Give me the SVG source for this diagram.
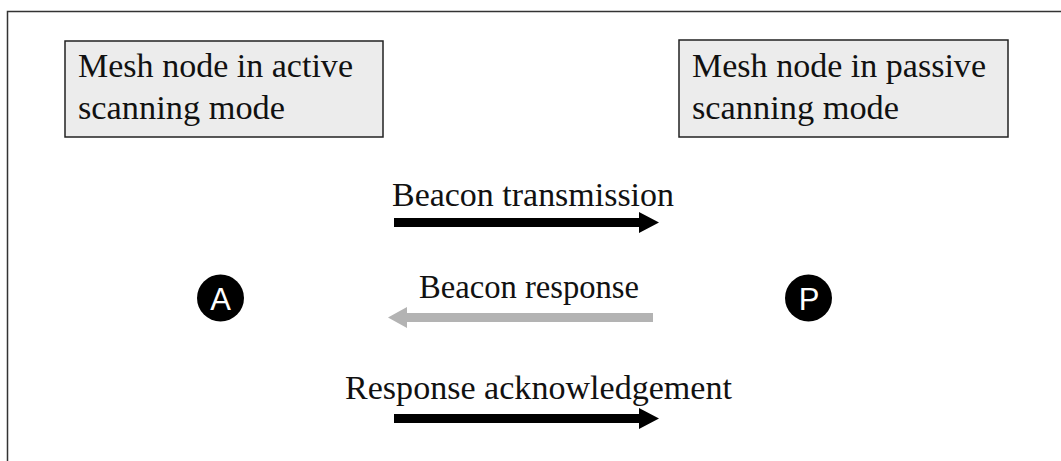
<svg xmlns="http://www.w3.org/2000/svg" width="1061" height="461" viewBox="0 0 1061 461">
  <style>
    .lbl { font-family: "Liberation Serif", "DejaVu Serif", serif; font-size: 34px; fill: #111; }
    .box { fill: #ececec; stroke: #222; stroke-width: 1.5; }
    .badge { fill: #000; }
    .badge-txt { font-family: "Liberation Sans", Arial, sans-serif; font-size: 31px; fill: #fff; text-anchor: middle; }
    .fwd { fill: #000; }
    .back { fill: #b3b3b3; }
  </style>
  <rect width="1061" height="461" fill="#fff"/>
  <!-- open frame: top and left edges only -->
  <path d="M7.5,470 V11.5 H1070" fill="none" stroke="#333" stroke-width="1.5"/>

  <g id="node-active">
    <rect class="box" x="65" y="41" width="318" height="96"/>
    <text class="lbl" x="78" y="77" textLength="275" lengthAdjust="spacingAndGlyphs">Mesh node in active</text>
    <text class="lbl" x="78" y="119" textLength="207" lengthAdjust="spacingAndGlyphs">scanning mode</text>
  </g>

  <g id="node-passive">
    <rect class="box" x="679" y="40" width="329" height="97"/>
    <text class="lbl" x="692" y="77" textLength="294" lengthAdjust="spacingAndGlyphs">Mesh node in passive</text>
    <text class="lbl" x="692" y="119" textLength="207" lengthAdjust="spacingAndGlyphs">scanning mode</text>
  </g>

  <g id="badge-a">
    <circle class="badge" cx="220.5" cy="298" r="23.5"/>
    <text class="badge-txt" x="220.5" y="309.5">A</text>
  </g>

  <g id="badge-p">
    <circle class="badge" cx="808.5" cy="298" r="23.5"/>
    <text class="badge-txt" x="809" y="309.5">P</text>
  </g>

  <g id="connectors">
    <g id="beacon-transmission">
      <polygon class="fwd" points="394,218 639,218 639,212 659,222.5 639,233 639,227 394,227"/>
      <text class="lbl" x="392" y="206" textLength="282" lengthAdjust="spacingAndGlyphs">Beacon transmission</text>
    </g>
    <g id="beacon-response">
      <polygon class="back" points="653,313 407,313 407,307 388,317.5 407,328 407,322 653,322"/>
      <text class="lbl" x="419" y="298" textLength="220" lengthAdjust="spacingAndGlyphs">Beacon response</text>
    </g>
    <g id="response-ack">
      <polygon class="fwd" points="394,414 639,414 639,408 659,418.5 639,429 639,423 394,423"/>
      <text class="lbl" x="345" y="399" textLength="387" lengthAdjust="spacingAndGlyphs">Response acknowledgement</text>
    </g>
  </g>
</svg>
